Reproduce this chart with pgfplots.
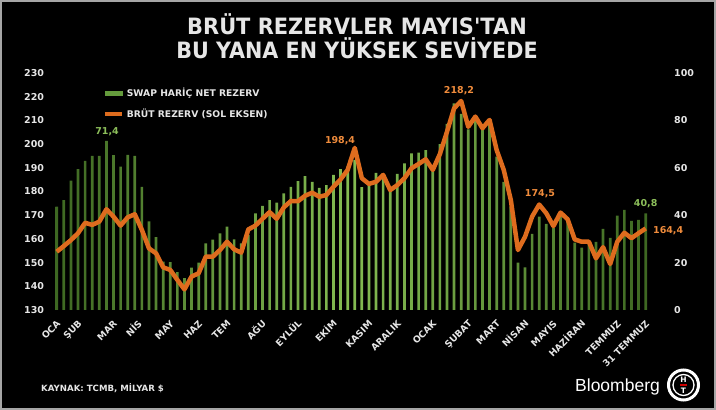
\documentclass[border=0pt]{standalone}
\usepackage{pgfplots}
\pgfplotsset{compat=1.18}
\usepackage{pgfplotstable}
\usepackage{graphicx}
\usepackage{fontspec}
\setmainfont{DejaVu Sans}
\newfontfamily\libsans{Liberation Sans}

\definecolor{barDark}{RGB}{62,104,34}
\definecolor{barLight}{RGB}{132,188,82}
\definecolor{barGreen}{RGB}{100,155,60}
\definecolor{lineOrange}{RGB}{222,108,30}
\definecolor{lblOrange}{RGB}{240,140,60}
\definecolor{lblGreen}{RGB}{140,190,90}
\definecolor{txtGray}{RGB}{230,230,230}

\pgfplotstableread{
x y
0 43.6
1 46.4
2 54.6
3 59.4
4 62.9
5 65.0
6 65.0
7 71.4
8 65.4
9 60.5
10 65.5
11 65.0
12 51.9
13 37.4
14 30.8
15 20.4
16 20.2
17 16.0
18 13.4
19 17.9
20 20.0
21 28.1
22 29.7
23 32.3
24 35.2
25 29.8
26 28.1
27 31.6
28 40.8
29 43.9
30 46.4
31 45.3
32 49.2
33 51.9
34 54.4
35 56.5
36 54.1
37 51.5
38 52.7
39 57.0
40 59.4
41 60.5
42 63.3
43 51.8
44 52.7
45 57.9
46 57.0
47 51.3
48 57.4
49 61.9
50 66.1
51 66.4
52 67.5
53 60.5
54 70.0
55 78.5
56 87.2
57 82.7
58 76.2
59 81.3
60 75.9
61 78.8
62 64.7
63 54.1
64 43.6
65 20.0
66 18.0
67 32.1
68 39.4
69 36.3
70 34.5
71 40.8
72 38.0
73 28.4
74 26.3
75 28.8
76 28.7
77 34.2
78 30.4
79 39.8
80 42.2
81 37.6
82 38.0
83 40.8
}\netres

\pgfplotstableread{
x y
0 154.6
1 157.0
2 159.5
3 162.4
4 166.8
5 165.9
6 167.3
7 172.5
8 169.4
9 165.6
10 169.1
11 170.4
12 163.8
13 156.0
14 153.9
15 148.0
16 146.9
17 142.7
18 138.7
19 144.1
20 145.5
21 152.5
22 152.5
23 155.3
24 158.8
25 155.6
26 154.2
27 164.0
28 165.6
29 168.5
30 171.3
31 168.5
32 173.3
33 176.0
34 175.9
35 178.2
36 179.5
37 177.8
38 178.5
39 182.0
40 185.1
41 189.1
42 198.4
43 185.6
44 183.2
45 184.1
46 187.0
47 180.6
48 182.7
49 185.6
50 189.8
51 191.6
52 193.6
53 189.1
54 195.8
55 205.2
56 215.1
57 218.2
58 207.3
59 211.6
60 206.7
61 210.2
62 197.5
63 189.1
64 176.4
65 155.3
66 160.9
67 169.4
68 174.5
69 170.8
70 165.4
71 171.1
72 168.3
73 159.8
74 158.8
75 158.8
76 151.8
77 156.5
78 149.4
79 158.8
80 162.6
81 160.3
82 162.4
83 164.4
}\brut

\begin{document}
\begin{tikzpicture}[x=1pt,y=1pt]
\fill[black] (0,0) rectangle (716,410);

% bars, right axis
\begin{axis}[
  at={(53.2pt,100pt)}, anchor=south west, scale only axis,
  width=596pt, height=237pt,
  xmin=-0.5, xmax=83.5, ymin=0, ymax=100,
  axis x line=none, axis y line*=right,
  axis line style={draw=none}, major tick style={draw=none},
  ytick={0,20,...,100},
  /pgf/number format/assume math mode=true,
  yticklabel style={anchor=west, inner sep=0pt, xshift=24.8pt, text=txtGray,
    font=\bfseries\fontsize{9.5}{11}\selectfont},
  clip=false,
]
\addplot[ybar, bar width=2.7pt, draw=none, left color=barDark, right color=barDark, middle color=barLight] table[x=x,y=y] {\netres};
\node[anchor=base, inner sep=0pt, text=lblGreen, font=\bfseries\fontsize{9.5}{11}\selectfont, xshift=0.6pt, yshift=6pt] at (axis cs:7,71.4) {71,4};
\node[anchor=base, inner sep=0pt, text=lblGreen, font=\bfseries\fontsize{9.5}{11}\selectfont, yshift=6.4pt] at (axis cs:83,40.8) {40,8};
\end{axis}

% line, left axis
\begin{axis}[
  at={(53.2pt,100pt)}, anchor=south west, scale only axis,
  width=596pt, height=237pt,
  xmin=-0.5, xmax=83.5, ymin=130, ymax=230,
  axis x line*=bottom, axis y line*=left,
  axis line style={draw=none}, major tick style={draw=none},
  ytick={130,140,...,230},
  /pgf/number format/assume math mode=true,
  yticklabel style={anchor=east, inner sep=0pt, xshift=-9pt, text=txtGray,
    font=\bfseries\fontsize{9.5}{11}\selectfont},
  xtick={0,3,8,11.5,16,20,24,29,34,39,44,48,53,58,62,66,70,74,79,83},
  xticklabels={OCA,ŞUB,MAR,NİS,MAY,HAZ,TEM,AĞU,EYLÜL,EKİM,KASIM,ARALIK,OCAK,ŞUBAT,MART,NİSAN,MAYIS,HAZİRAN,TEMMUZ,31 TEMMUZ},
  xticklabel style={yshift=-12pt, xshift=2pt, rotate=45, anchor=east, inner sep=0pt,
    text height=6.7pt, text depth=0pt, text=txtGray,
    font=\bfseries\fontsize{9.2}{11}\selectfont},
  clip=false,
  legend style={at={(0.083,0.942)}, anchor=north west, draw=none, fill=none,
    text=txtGray, font=\bfseries\fontsize{9.2}{11}\selectfont,
    inner sep=0pt, row sep=9pt, column sep=2pt, nodes={inner sep=1pt}},
  legend cell align=left,
]
\addlegendimage{legend image code/.code={\fill[barGreen] (0pt,-2pt) rectangle (17pt,2pt);}}
\addlegendentry{SWAP HARİÇ NET REZERV}
\addplot[lineOrange, line width=4.5pt, line join=round, mark=none,
  legend image code/.code={\draw[lineOrange, line width=4pt] (0pt,0pt) -- (17pt,0pt);}] table[x=x,y=y] {\brut};
\addlegendentry{BRÜT REZERV (SOL EKSEN)}
\node[anchor=base, inner sep=0pt, text=lblOrange, font=\bfseries\fontsize{9.5}{11}\selectfont, xshift=-14.7pt, yshift=4.7pt] at (axis cs:42,198.4) {198,4};
\node[anchor=base, inner sep=0pt, text=lblOrange, font=\bfseries\fontsize{9.5}{11}\selectfont, xshift=-2.2pt, yshift=7.1pt] at (axis cs:57,218.2) {218,2};
\node[anchor=base, inner sep=0pt, text=lblOrange, font=\bfseries\fontsize{9.5}{11}\selectfont, xshift=0.8pt, yshift=8.4pt] at (axis cs:68,174.5) {174,5};
\node[anchor=base west, inner sep=0pt, text=lblOrange, font=\bfseries\fontsize{9.5}{11}\selectfont, xshift=7.3pt, yshift=-5.3pt] at (axis cs:83,164.4) {164,4};
\end{axis}

% title
\node[anchor=base, inner sep=0pt, text=txtGray, font=\bfseries\fontsize{22.5}{27}\selectfont] at (357,375) {\scalebox{0.93}[1]{BRÜT REZERVLER MAYIS\textquotesingle TAN}};
\node[anchor=base, inner sep=0pt, text=txtGray, font=\bfseries\fontsize{22.5}{27}\selectfont] at (357,351) {\scalebox{0.92}[1]{BU YANA EN YÜKSEK SEVİYEDE}};

% source
\node[anchor=base west, inner sep=0pt, text=txtGray, font=\bfseries\fontsize{8.6}{10}\selectfont] at (41,18) {KAYNAK: TCMB, MİLYAR \$};

% Bloomberg HT logo
\node[anchor=base west, inner sep=0pt, text=white, font=\libsans\fontsize{17.5}{20}\selectfont] at (575,18.3) {Bloomberg};
\draw[white, line width=3pt] (683.5,25) circle (15);
\draw[white, line width=1.3pt] (683.5,25) circle (10.5);
\node[text=white, inner sep=0pt, font=\bfseries\fontsize{7.5}{8}\selectfont] at (683.5,30.5) {H};
\node[text=white, inner sep=0pt, font=\bfseries\fontsize{7.5}{8}\selectfont] at (683.5,19.3) {T};
\fill[red!80!black] (680,24.3) rectangle (687,25.7);

\draw[gray!70, line width=2pt] (1,1) rectangle (715,409);
\pgfresetboundingbox
\path[use as bounding box] (0,0) rectangle (716,410);
\end{tikzpicture}
\end{document}
